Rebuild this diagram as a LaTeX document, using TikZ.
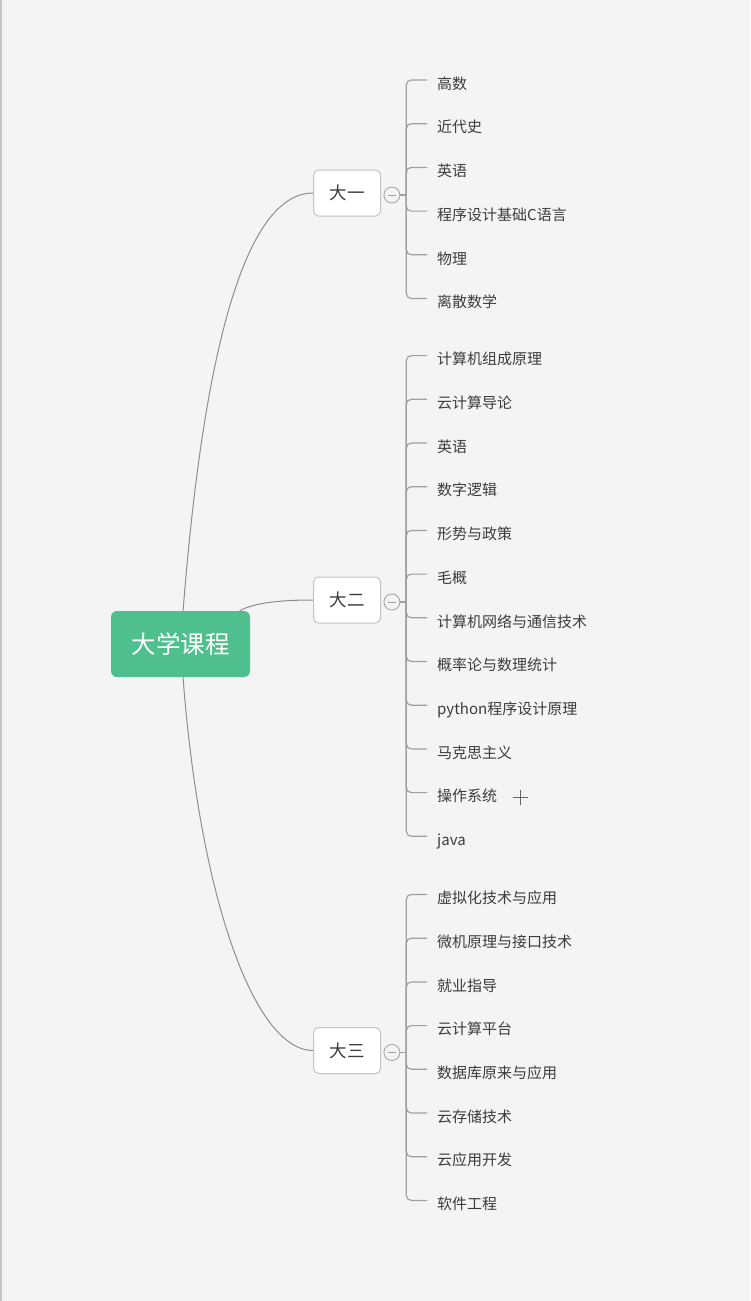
\documentclass[tikz,border=0pt]{standalone}
\usepackage{fontspec}
\newfontfamily\cjk{Noto Sans CJK SC}
\usepackage{tikz}
\usetikzlibrary{positioning}
\definecolor{baggrund}{HTML}{F4F4F4}
\definecolor{gruen}{HTML}{4FC08D}
\definecolor{textgrau}{HTML}{3C3C3C}
\definecolor{boxgrau}{HTML}{C4C4C4}
\definecolor{linjegrau}{HTML}{A0A0A0}
\definecolor{kurvegrau}{HTML}{8E8E8E}
\definecolor{randgrau}{HTML}{C8C8C8}
\tikzset{
    rod/.style={
           rectangle, rounded corners=6pt,
           fill=gruen, text=white,
           minimum width=139pt, minimum height=66pt,
           font=\cjk\fontsize{24.5}{28}\selectfont},
    gren/.style={
           rectangle, rounded corners=5pt,
           draw=boxgrau, fill=white, line width=1pt,
           minimum width=67pt, minimum height=46pt,
           text=textgrau,
           font=\cjk\fontsize{17.5}{20}\selectfont},
    knap/.style={
           circle, draw=linjegrau, fill=baggrund, line width=0.8pt,
           minimum size=16pt, inner sep=0pt,
           path picture={\draw[linjegrau, line width=0.8pt] (path picture bounding box.center) ++(-4pt,0) -- ++(8pt,0);}},
    blad/.style={
           anchor=west, inner xsep=10pt, inner ysep=0pt,
           text height=18.5pt, text depth=0pt,
           text=textgrau,
           font=\cjk\fontsize{15}{17}\selectfont},
    kurve/.style={
           draw=kurvegrau, line width=1pt},
    klamme/.style={
           draw=linjegrau, line width=1.2pt, rounded corners=5pt}
}
\begin{document}
\begin{tikzpicture}[x=1pt, y=-1pt, node distance=43.7pt]
        \fill[baggrund] (0,0) rectangle (750,1301);
        \useasboundingbox (0,0) rectangle (750,1301);
        \draw[randgrau, line width=1.5pt] (0.75,0) -- (0.75,1301);

        \node[rod] (r) at (180.5,644) {大学课程};
        \node[gren] (y1) at (347,193) {大一};
        \node[gren] (y2) at (347,600) {大二};
        \node[gren] (y3) at (347,1050.5) {大三};
        \node[knap, right=2.5pt of y1, yshift=-2pt] (t1) {};
        \node[knap, right=2.5pt of y2, yshift=-2pt] (t2) {};
        \node[knap, right=2.5pt of y3, yshift=-2pt] (t3) {};
        \coordinate[right=6pt of t1] (h1);
        \coordinate[right=6pt of t2] (h2);
        \coordinate[right=6pt of t3] (h3);

        % first year
        \node[blad] (a1) at (427,80) {高数};
        \node[below=of a1.west, blad] (a2) {近代史};
        \node[below=of a2.west, blad] (a3) {英语};
        \node[below=of a3.west, blad] (a4) {程序设计基础C语言};
        \node[below=of a4.west, blad] (a5) {物理};
        \node[below=of a5.west, blad] (a6) {离散数学};

        % second year
        \node[blad] (b1) at (427,355.6) {计算机组成原理};
        \node[below=of b1.west, blad] (b2) {云计算导论};
        \node[below=of b2.west, blad] (b3) {英语};
        \node[below=of b3.west, blad] (b4) {数字逻辑};
        \node[below=of b4.west, blad] (b5) {形势与政策};
        \node[below=of b5.west, blad] (b6) {毛概};
        \node[below=of b6.west, blad] (b7) {计算机网络与通信技术};
        \node[below=of b7.west, blad] (b8) {概率论与数理统计};
        \node[below=of b8.west, blad] (b9) {python程序设计原理};
        \node[below=of b9.west, blad] (b10) {马克思主义};
        \node[below=of b10.west, blad] (b11) {操作系统};
        \node[below=of b11.west, blad] (b12) {java};
        \coordinate[right=13pt of b11.east, yshift=-5pt] (p11);

        % third year
        \node[blad] (c1) at (427,894.5) {虚拟化技术与应用};
        \node[below=of c1.west, blad] (c2) {微机原理与接口技术};
        \node[below=of c2.west, blad] (c3) {就业指导};
        \node[below=of c3.west, blad] (c4) {云计算平台};
        \node[below=of c4.west, blad] (c5) {数据库原来与应用};
        \node[below=of c5.west, blad] (c6) {云存储技术};
        \node[below=of c6.west, blad] (c7) {云应用开发};
        \node[below=of c7.west, blad] (c8) {软件工程};

        \draw[kurve] (r) .. controls (205,330) and (250,193) .. (y1);
        \draw[kurve] (r) .. controls (250,605) and (270,600) .. (y2);
        \draw[kurve] (r) .. controls (200,900) and (255,1050.5) .. (y3);

        \draw[klamme] (t1) -- (h1);
        \draw[klamme] (h1) |- (a1);
        \draw[klamme] (h1) |- (a2);
        \draw[klamme] (h1) |- (a3);
        \draw[klamme] (h1) |- (a4);
        \draw[klamme] (h1) |- (a5);
        \draw[klamme] (h1) |- (a6);

        \draw[klamme] (t2) -- (h2);
        \draw[klamme] (h2) |- (b1);
        \draw[klamme] (h2) |- (b2);
        \draw[klamme] (h2) |- (b3);
        \draw[klamme] (h2) |- (b4);
        \draw[klamme] (h2) |- (b5);
        \draw[klamme] (h2) |- (b6);
        \draw[klamme] (h2) |- (b7);
        \draw[klamme] (h2) |- (b8);
        \draw[klamme] (h2) |- (b9);
        \draw[klamme] (h2) |- (b10);
        \draw[klamme] (h2) |- (b11);
        \draw[klamme] (h2) |- (b12);
        \draw[textgrau!80, line width=1pt] (p11) ++(-7.5pt,0) -- ++(15pt,0) (p11) ++(0,-7.5pt) -- ++(0,15pt);

        \draw[klamme] (t3) -- (h3);
        \draw[klamme] (h3) |- (c1);
        \draw[klamme] (h3) |- (c2);
        \draw[klamme] (h3) |- (c3);
        \draw[klamme] (h3) |- (c4);
        \draw[klamme] (h3) |- (c5);
        \draw[klamme] (h3) |- (c6);
        \draw[klamme] (h3) |- (c7);
        \draw[klamme] (h3) |- (c8);
\end{tikzpicture}
\end{document}
